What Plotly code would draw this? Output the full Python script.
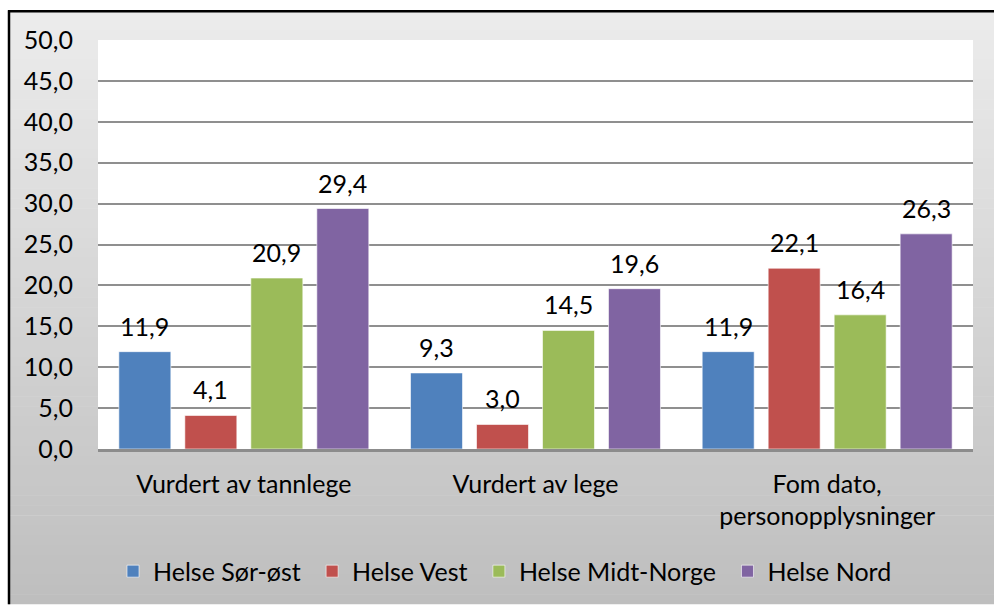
import plotly.graph_objects as go

# ---- data ----
categories = ["Vurdert av tannlege", "Vurdert av lege", "Fom dato,<br>personopplysninger"]
series_names = ["Helse Sør-øst", "Helse Vest", "Helse Midt-Norge", "Helse Nord"]
sor_ost = [11.9, 9.3, 11.9]
vest = [4.1, 3.0, 22.1]
midt_norge = [20.9, 14.5, 16.4]
nord = [29.4, 19.6, 26.3]
series_values = [sor_ost, vest, midt_norge, nord]
y_ticks = [0, 5, 10, 15, 20, 25, 30, 35, 40, 45, 50]

colors = ["#4F81BD", "#C0504D", "#9BBB59", "#8064A2"]
FONT = "Lato"
FS = 25

# page geometry (body margin removed via post_script)
REF_W, REF_H = 994, 607
BODY = 0
PL, PR, PT, PB = 98, 973, 40, 451  # plot area in page pixels
W, H = REF_W - BODY, REF_H - BODY
ML, MR, MT, MB = PL - BODY, REF_W - PR, PT - BODY, REF_H - PB
PW, PH = PR - PL, PB - PT


def px_x(px):
    return (px - PL) / PW


def px_y(py):
    return (PB - py) / PH


# bar geometry (category units)
group_w = 0.905
slot = group_w / len(series_names)
bar_w = slot * (1 - 0.212)

fig = go.Figure()
annotations = []
for k, (name, vals, col) in enumerate(zip(series_names, series_values, colors)):
    off = -group_w / 2 + k * slot + (slot - bar_w) / 2
    fig.add_trace(go.Bar(
        x=categories, y=vals, name=name + "\u00a0",
        marker=dict(color=col, line=dict(color="rgba(255,255,255,0.6)", width=1)),
        width=bar_w, offset=off,
    ))
    for i, v in enumerate(vals):
        annotations.append(dict(
            x=i + off + bar_w / 2, y=v, xref="x", yref="y",
            text=f"{v:.1f}".replace(".", ","), showarrow=False,
            yanchor="bottom", xanchor="center", yshift=9,
            font=dict(family=FONT, size=FS, color="#000000"),
        ))

# background gradient + borders
shapes = []
top_py, bot_py = 10, REF_H
n = 60
step = (bot_py - top_py) / n
for i in range(n):
    y0p = top_py + i * step
    y1p = min(y0p + step + 0.5, bot_py)
    t = (i + 0.5) / n
    c = int(round(236 - t * 46))
    shapes.append(dict(type="rect", xref="paper", yref="paper",
                       x0=px_x(8), x1=px_x(REF_W), y0=px_y(y1p), y1=px_y(y0p),
                       fillcolor=f"rgb({c},{c},{c})", line=dict(width=0), layer="below"))
shapes.append(dict(type="rect", xref="paper", yref="paper", x0=0, x1=1, y0=0, y1=1,
                   fillcolor="white", line=dict(width=0), layer="below"))
shapes.append(dict(type="line", xref="paper", yref="paper",
                   x0=px_x(8), x1=px_x(REF_W), y0=px_y(11), y1=px_y(11),
                   line=dict(color="black", width=2.5)))
shapes.append(dict(type="line", xref="paper", yref="paper",
                   x0=px_x(9), x1=px_x(9), y0=px_y(10), y1=px_y(REF_H),
                   line=dict(color="black", width=2.5)))

fig.update_layout(
    width=W, height=H,
    margin=dict(l=ML, r=MR, t=MT, b=MB, pad=0),
    paper_bgcolor="white", plot_bgcolor="white",
    separators=",.",
    barmode="group",
    font=dict(family=FONT, size=FS, color="#000000"),
    showlegend=True,
    legend=dict(orientation="h", x=px_x(113), xanchor="left", y=px_y(574), yanchor="middle",
                font=dict(family=FONT, size=FS, color="#000000"),
                bgcolor="rgba(0,0,0,0)", traceorder="normal"),
    shapes=shapes,
    annotations=annotations,
    xaxis=dict(type="category", showgrid=False, showline=True, linecolor="#8C8C8C", linewidth=2.5,
               ticks="", ticklabelstandoff=11, tickfont=dict(family=FONT, size=FS), fixedrange=True),
    yaxis=dict(range=[0, 50], tickvals=y_ticks, tickformat=".1f", showgrid=True,
               gridcolor="#8F8F8F", gridwidth=2, zeroline=False, showline=False,
               ticks="", ticklabelstandoff=24, tickfont=dict(family=FONT, size=FS), fixedrange=True),
)

fig.write_html(
    "out.html",
    config={"displayModeBar": False},
    post_script="document.body.style.margin='0';document.body.style.overflow='hidden';",
)
